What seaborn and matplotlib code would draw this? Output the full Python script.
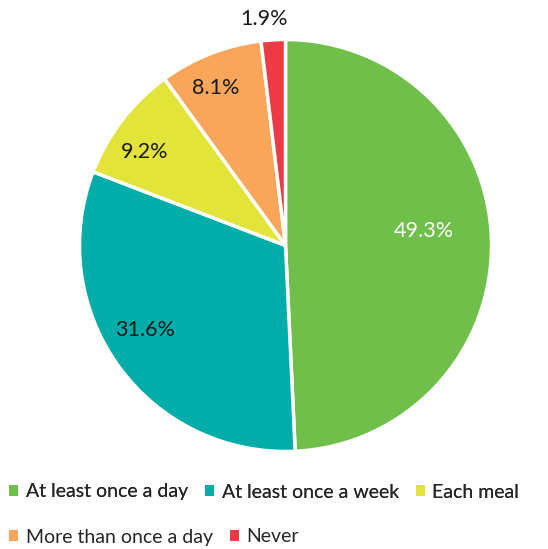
import numpy as np
import matplotlib
matplotlib.use("Agg")
import matplotlib.pyplot as plt
import seaborn as sns

categories = ["At least once a day", "At least once a week", "Each meal",
              "More than once a day", "Never"]
shares = [49.3, 31.6, 9.2, 8.1, 1.9]
colors = ["#70BF4A", "#00ADA8", "#E2E43A", "#F9A65A", "#EE3A45"]
label_colors = ["white", "#1a1a1a", "#1a1a1a", "#1a1a1a", "#1a1a1a"]
# label placement: distance from centre (fraction of radius) and angular nudge (deg)
label_radius = [0.675, 0.80, 0.815, 0.825, 1.094]
label_nudge = [3.9, -4.1, 4.6, 2.7, 2.0]

sns.set_theme(style="white")
plt.rcParams["font.family"] = ["Lato", "DejaVu Sans"]
palette = sns.color_palette(colors)

fig = plt.figure(figsize=(5.48, 5.49), dpi=100)
r_px = 206
cx, cy = 285.5, 245.5
ax = fig.add_axes([(cx - r_px) / 548, (549 - cy - r_px) / 549,
                   2 * r_px / 548, 2 * r_px / 549])

wedges, _ = ax.pie(shares, colors=palette, startangle=90, counterclock=False,
                   wedgeprops=dict(edgecolor="white", linewidth=2.5))
ax.set_xlim(-1, 1)
ax.set_ylim(-1, 1)
ax.set_aspect("equal")

for w, v, r, dn, c in zip(wedges, shares, label_radius, label_nudge, label_colors):
    ang = np.deg2rad((w.theta1 + w.theta2) / 2 + dn)
    ax.annotate(f"{v:.1f}%", (r * np.cos(ang), r * np.sin(ang)),
                xytext=(0, 1.5), textcoords="offset points", ha="center",
                va="center", fontsize=15.5, color=c, annotation_clip=False)

common = dict(frameon=False, fontsize=14, handlelength=0.47, handleheight=0.47,
              handletextpad=0.4, borderaxespad=0, borderpad=0)
leg1 = fig.legend(wedges[:3], categories[:3], ncol=3, loc="center left",
                  bbox_to_anchor=(0.017, 1 - 492 / 549), columnspacing=0.85,
                  **common)
for h in leg1.legend_handles:
    h.set_edgecolor("none")
leg2 = fig.legend(wedges[3:], categories[3:], ncol=2, loc="center left",
                  bbox_to_anchor=(0.017, 1 - 537 / 549), columnspacing=0.85,
                  **common)
for h in leg2.legend_handles:
    h.set_edgecolor("none")
fig.add_artist(leg1)

fig.savefig("out.png", dpi=100, facecolor="white")
